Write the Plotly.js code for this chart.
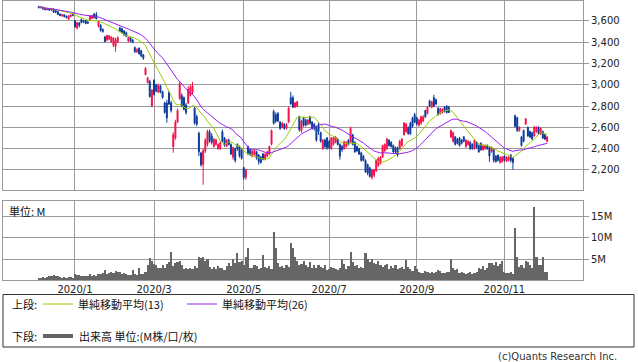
<!DOCTYPE html>
<html><head><meta charset="utf-8">
<script src="https://cdn.plot.ly/plotly-3.0.1.min.js"></script>
<style>html,body{margin:0;padding:0;background:#fff;}#chart{width:638px;height:362px;}</style>
</head><body><div id="chart"></div>
<script>
// Daily OHLC (trading days, Dec 2019 - Dec 2020)
const openP = [3735,3722,3730,3720,3705,3718,3700,3712,3695,3688,3665,3648,3658,3645,3615,3640,3665,
3600,3535,3580,3615,3600,3605,3590,3610,3625,3665,3660,3550,3560,3520,3450,3420,3430,3405,3370,3360,3400,3535,3525,3505,3490,3410,3445,3420,3350,3310,3345,3320,3280,3095,3020,3030,2800,
3045,3000,2930,2990,2935,2830,2830,2930,2830,2420,2500,2650,2870,2900,2880,2810,2830,2900,2930,2780,2700,2545,2360,2250,2380,2440,2560,2520,2420,2440,2400,2400,2560,2500,2425,2480,2440,2320,2400,2440,2420,2390,
2222,2130,2419,2390,2330,2345,2370,2340,2320,2350,2300,2330,2350,2440,2750,2720,2730,2650,2600,2630,2590,2650,2880,2880,2790,2800,2700,2570,2690,2670,2630,2700,2650,2630,2600,2620,2550,2400,2480,2500,
2470,2400,2440,2460,2490,2440,2420,2400,2420,2480,2460,2530,2460,2420,2400,2360,2330,2290,2250,2220,2130,2150,2190,2240,2260,2320,2380,2400,2480,2460,2430,2410,2410,2400,2430,2530,2560,2600,2640,2690,2720,
2690,2620,2640,2660,2760,2730,2850,2790,2880,2860,2780,2730,2740,2790,2800,2790,2510,2470,2510,2490,2500,2480,2510,2420,2440,2460,2440,2400,2460,2430,2450,2390,2400,2430,2410,2370,2390,2330,2340,2270,2280,
2330,2280,2290,2340,2310,2710,2690,2570,2510,2570,2630,2600,2560,2550,2520,2560,2600,2540,2560,2530,2470];
const highP = [3742,3740,3735,3726,3725,3722,3720,3716,3700,3690,3670,3666,3662,3650,3656,3660,3672,
3610,3590,3590,3622,3610,3610,3600,3652,3656,3675,3685,3605,3570,3530,3460,3470,3468,3455,3445,3440,3455,3545,3535,3515,3500,3452,3450,3430,3360,3345,3350,3330,3290,3165,3075,3045,2960,
3050,3010,3010,3000,2945,2840,2860,2940,2850,2555,2672,2775,3030,2920,2890,2830,2990,3000,3028,2790,2720,2560,2370,2400,2500,2578,2580,2545,2500,2495,2450,2465,2580,2510,2490,2495,2450,2420,2410,2450,2430,2400,
2230,2210,2430,2400,2390,2395,2380,2350,2330,2360,2360,2380,2430,2580,2766,2740,2745,2660,2650,2640,2640,2794,2934,2900,2840,2850,2710,2672,2700,2680,2680,2710,2660,2640,2610,2644,2560,2490,2495,2510,
2480,2510,2512,2520,2500,2450,2435,2475,2470,2490,2606,2540,2470,2430,2410,2370,2340,2300,2260,2230,2210,2210,2300,2325,2330,2437,2450,2503,2490,2470,2440,2420,2420,2484,2500,2650,2644,2610,2653,2700,2737,
2700,2680,2710,2715,2766,2800,2860,2850,2906,2870,2790,2785,2780,2800,2810,2803,2580,2560,2520,2500,2510,2490,2520,2490,2480,2470,2450,2490,2470,2440,2460,2440,2440,2440,2420,2419,2400,2340,2345,2330,2330,
2340,2330,2330,2350,2316,2719,2700,2610,2520,2580,2690,2610,2570,2560,2615,2610,2610,2600,2570,2540,2520];
const lowP = [3718,3718,3705,3700,3700,3694,3695,3675,3672,3655,3645,3640,3635,3625,3610,3635,3645,
3535,3520,3540,3578,3580,3570,3572,3605,3618,3625,3615,3540,3500,3490,3400,3410,3420,3395,3355,3310,3395,3495,3480,3460,3448,3400,3400,3390,3300,3300,3285,3260,3235,3090,3015,2880,2790,
2900,2930,2925,2920,2870,2730,2645,2810,2740,2362,2484,2640,2860,2790,2760,2720,2820,2890,2910,2625,2610,2330,2231,2062,2360,2420,2456,2440,2410,2430,2390,2390,2460,2419,2415,2430,2340,2297,2269,2380,2316,2297,
2109,2109,2340,2330,2320,2335,2297,2250,2260,2290,2290,2320,2340,2430,2625,2640,2650,2578,2590,2578,2580,2640,2813,2784,2784,2790,2559,2550,2606,2610,2620,2625,2578,2570,2466,2531,2456,2390,2400,2390,
2395,2390,2430,2450,2430,2297,2370,2390,2410,2430,2456,2430,2362,2370,2340,2278,2280,2175,2150,2128,2109,2130,2184,2231,2250,2316,2370,2390,2420,2410,2362,2350,2325,2390,2420,2525,2550,2531,2531,2597,2640,
2620,2606,2625,2650,2690,2720,2790,2780,2790,2810,2710,2720,2730,2740,2730,2735,2500,2456,2430,2440,2419,2440,2460,2409,2430,2390,2390,2390,2400,2362,2380,2380,2390,2390,2278,2362,2269,2269,2280,2260,2269,
2280,2275,2280,2270,2203,2600,2559,2559,2419,2460,2625,2512,2500,2484,2512,2550,2530,2530,2490,2480,2460];
const closeP = [3725,3732,3712,3705,3718,3700,3712,3680,3685,3660,3650,3660,3640,3630,3650,3655,3650,
3545,3585,3560,3585,3590,3575,3580,3645,3650,3630,3620,3595,3510,3500,3405,3465,3460,3450,3440,3420,3445,3500,3490,3470,3455,3445,3410,3400,3310,3330,3290,3270,3250,3155,3065,2890,2950,
2910,2940,2995,2930,2880,2740,2690,2820,2760,2530,2650,2760,3010,2800,2770,2740,2960,2975,2990,2640,2630,2370,2250,2380,2480,2560,2470,2460,2490,2480,2440,2455,2470,2430,2480,2440,2350,2410,2290,2400,2330,2310,
2130,2200,2350,2345,2375,2380,2310,2280,2270,2300,2345,2370,2420,2570,2640,2660,2660,2590,2640,2590,2625,2780,2820,2790,2830,2840,2580,2660,2620,2620,2670,2640,2590,2590,2480,2560,2470,2480,2420,2410,
2410,2500,2505,2510,2440,2330,2390,2465,2460,2440,2590,2440,2370,2380,2350,2290,2290,2180,2170,2140,2200,2200,2290,2310,2320,2430,2440,2490,2430,2420,2370,2370,2340,2470,2490,2640,2630,2540,2540,2610,2650,
2630,2670,2700,2700,2700,2790,2800,2840,2800,2820,2720,2775,2770,2750,2740,2740,2570,2550,2440,2450,2430,2450,2470,2480,2470,2400,2400,2480,2410,2370,2390,2430,2430,2400,2330,2410,2290,2280,2290,2320,2320,
2290,2320,2320,2290,2270,2610,2570,2600,2430,2470,2680,2520,2510,2490,2600,2600,2540,2590,2500,2490,2510];
// Volume, millions of shares
const volumeM = [0.6,0.5,0.7,0.6,0.8,1.0,0.9,1.2,1.0,1.1,0.8,0.6,0.7,0.6,0.8,0.7,0.6,
1.6,1.3,1.2,1.0,1.1,0.9,1.0,1.4,0.9,1.2,1.0,1.5,1.6,1.8,2.4,1.5,1.7,2.0,1.8,2.2,1.9,2.0,1.6,1.7,1.4,1.2,1.3,2.4,1.5,1.2,2.8,1.4,1.6,2.0,3.5,5.2,4.5,
3.8,3.6,3.0,2.9,3.7,2.8,3.8,4.2,6.7,3.4,4.0,4.3,4.5,3.5,2.6,2.8,2.6,3.0,2.6,3.4,2.9,5.6,5.2,5.6,4.6,4.9,3.2,2.7,3.1,2.6,3.4,2.9,3.0,2.5,3.3,4.1,3.3,4.9,4.0,6.4,4.3,4.6,
3.7,5.6,7.5,3.0,2.8,3.7,3.4,2.7,3.0,5.9,3.1,2.8,3.3,2.7,11.4,7.5,4.0,3.2,3.4,2.9,3.6,3.2,8.7,7.5,5.6,4.5,3.6,3.9,4.6,3.5,3.1,4.2,3.0,3.5,2.8,3.7,3.2,2.9,3.5,2.5,
2.7,3.1,2.9,2.6,2.4,3.0,5.1,3.8,2.7,3.3,6.6,4.2,3.4,3.7,3.0,3.2,2.8,6.4,5.0,4.3,5.1,4.1,3.8,4.5,3.5,3.2,3.6,3.8,2.7,3.4,2.9,3.6,2.6,2.9,3.2,2.7,4.8,3.1,2.7,2.3,3.4,
2.6,1.9,1.7,1.8,2.2,2.0,1.8,2.0,1.8,1.9,2.4,2.1,1.8,1.7,1.9,2.0,5.0,2.8,2.4,2.6,1.8,1.9,1.7,1.6,1.8,2.0,1.5,1.7,1.9,3.0,2.7,3.4,2.4,2.9,4.1,4.0,3.6,4.3,3.4,3.8,4.6,
2.0,1.8,1.7,1.9,1.6,12.2,5.4,3.2,3.7,3.0,4.5,4.2,3.6,2.8,17.2,5.4,3.6,3.5,5.4,2.0,1.9];
// Month ticks (index of first trading day of month)
const monthTickIdx = [17, 54, 96, 136, 177, 218];
const monthTickText = ['2020/1', '2020/3', '2020/5', '2020/7', '2020/9', '2020/11'];
const priceTicks = [2200, 2400, 2600, 2800, 3000, 3200, 3400, 3600];
const volTicks = [5, 10, 15];
const volTickText = ['5M', '10M', '15M'];
const maShort = 13, maLong = 26;

const idx = closeP.map((_, i) => i);
function sma(arr, n) {
  return arr.map((_, i) => {
    const s = Math.max(0, i - n + 1);
    let t = 0;
    for (let k = s; k <= i; k++) t += arr[k];
    return t / (i - s + 1);
  });
}

const W = 638, H = 362;
const px = x => x / W, py = y => 1 - y / H;
const grid = '#9a9a9a';
const tickFont = {family: 'DejaVu Sans', size: 10, color: '#222'};
const jp = {family: 'Noto Sans CJK JP', size: 11, color: '#111'};
const xr = [-16.7, 254.8];

const traces = [
  {type: 'candlestick', x: idx, open: openP, high: highP, low: lowP, close: closeP,
   xaxis: 'x', yaxis: 'y',
   increasing: {line: {color: '#f5104a', width: 1}, fillcolor: '#f5104a'},
   decreasing: {line: {color: '#0b3a9a', width: 1}, fillcolor: '#0b3a9a'},
   hoverinfo: 'skip', showlegend: false},
  {type: 'scatter', mode: 'lines', x: idx, y: sma(closeP, maShort), xaxis: 'x', yaxis: 'y',
   line: {color: '#99cc00', width: 1}, hoverinfo: 'skip', showlegend: false},
  {type: 'scatter', mode: 'lines', x: idx, y: sma(closeP, maLong), xaxis: 'x', yaxis: 'y',
   line: {color: '#9a1ff0', width: 1}, hoverinfo: 'skip', showlegend: false},
  {type: 'bar', x: idx, y: volumeM, xaxis: 'x2', yaxis: 'y2',
   marker: {color: '#666666', line: {width: 0}}, hoverinfo: 'skip', showlegend: false}
];

const layout = {
  width: W, height: H,
  margin: {l: 0, r: 0, t: 0, b: 0},
  paper_bgcolor: '#fff', plot_bgcolor: '#fff',
  showlegend: false, boxgap: 0.35, bargap: 0,
  xaxis: {domain: [px(3), px(583)], range: xr, anchor: 'y',
    tickvals: monthTickIdx, showticklabels: false, ticks: '',
    showgrid: true, gridcolor: grid, gridwidth: 1, zeroline: false,
    showline: true, mirror: true, linecolor: grid, linewidth: 1,
    rangeslider: {visible: false}, fixedrange: true, automargin: false},
  yaxis: {domain: [py(190), py(0.5)], range: [2012, 3792], side: 'right', anchor: 'x',
    tickvals: priceTicks, tickformat: ',d', ticks: 'outside', ticklen: 5, tickcolor: grid,
    tickfont: tickFont, showgrid: true, gridcolor: grid, gridwidth: 1, zeroline: false,
    showline: true, mirror: true, linecolor: grid, linewidth: 1, automargin: false},
  xaxis2: {domain: [px(3), px(583)], range: xr, anchor: 'y2',
    tickvals: monthTickIdx, ticktext: monthTickText, ticks: '', tickfont: tickFont,
    showgrid: true, gridcolor: grid, gridwidth: 1, zeroline: false,
    showline: true, mirror: true, linecolor: grid, linewidth: 1, automargin: false},
  yaxis2: {domain: [py(280.3), py(201)], range: [0, 18.66], side: 'right', anchor: 'x2',
    tickvals: volTicks, ticktext: volTickText, ticks: 'outside', ticklen: 5, tickcolor: grid,
    tickfont: tickFont, showgrid: true, gridcolor: grid, gridwidth: 1, zeroline: false,
    showline: true, mirror: true, linecolor: grid, linewidth: 1, automargin: false},
  shapes: [
    {type: 'rect', xref: 'paper', yref: 'paper', x0: px(3), x1: px(634), y0: py(347), y1: py(294.5),
     line: {color: '#333', width: 1}, fillcolor: 'rgba(0,0,0,0)'},
    {type: 'line', xref: 'paper', yref: 'paper', x0: px(43), x1: px(73), y0: py(304), y1: py(304),
     line: {color: '#99cc00', width: 1}},
    {type: 'line', xref: 'paper', yref: 'paper', x0: px(187), x1: px(217), y0: py(304), y1: py(304),
     line: {color: '#9a1ff0', width: 1}},
    {type: 'line', xref: 'paper', yref: 'paper', x0: px(43), x1: px(73), y0: py(336), y1: py(336),
     line: {color: '#666666', width: 4}}
  ],
  annotations: [
    {text: '単位: M', xref: 'paper', yref: 'paper', x: px(7), y: py(210.5), xanchor: 'left', yanchor: 'middle', showarrow: false, font: jp},
    {text: '上段:', xref: 'paper', yref: 'paper', x: px(10), y: py(304), xanchor: 'left', yanchor: 'middle', showarrow: false, font: jp},
    {text: '単純移動平均(13)', xref: 'paper', yref: 'paper', x: px(76), y: py(304), xanchor: 'left', yanchor: 'middle', showarrow: false, font: jp},
    {text: '単純移動平均(26)', xref: 'paper', yref: 'paper', x: px(220), y: py(304), xanchor: 'left', yanchor: 'middle', showarrow: false, font: jp},
    {text: '下段:', xref: 'paper', yref: 'paper', x: px(10), y: py(336), xanchor: 'left', yanchor: 'middle', showarrow: false, font: jp},
    {text: '出来高 単位:(M株/口/枚)', xref: 'paper', yref: 'paper', x: px(77), y: py(336), xanchor: 'left', yanchor: 'middle', showarrow: false, font: jp},
    {text: '(c)Quants Research Inc.', xref: 'paper', yref: 'paper', x: px(619), y: py(356), xanchor: 'right', yanchor: 'middle', showarrow: false,
     font: {family: 'DejaVu Sans', size: 10, color: '#333'}}
  ]
};

Plotly.newPlot('chart', traces, layout, {staticPlot: true, displayModeBar: false});
</script></body></html>
